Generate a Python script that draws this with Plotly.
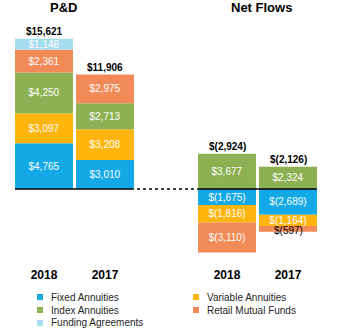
import plotly.graph_objects as go

# ---- data ----
groups = ["P&D", "P&D", "Net Flows", "Net Flows"]
years = ["2018", "2017", "2018", "2017"]
xpos = [0, 1, 3, 4]

series = ["Fixed Annuities", "Variable Annuities", "Index Annuities",
          "Retail Mutual Funds", "Funding Agreements"]
fixed = [4765, 3010, -1675, -2689]
variable = [3097, 3208, -1816, -1164]
index_ann = [4250, 2713, 3677, 2324]
retail = [2361, 2975, -3110, -597]
funding = [1148, 0, 0, 0]
values = [fixed, variable, index_ann, retail, funding]

colors = ["#12A9E6", "#FDB50E", "#8DB152", "#F28A58", "#A3DDEE"]

FONT = "Liberation Sans"
W, H = 339, 329
MB = 67
PH = H - MB  # plot height
ZERO_PX = 189
K = 104.0  # value units per pixel
BW = 0.95


def fmt(v):
    if v == 0:
        return ""
    s = "${:,}".format(abs(v))
    return s if v > 0 else "$(" + "{:,}".format(abs(v)) + ")"


fig = go.Figure()
small = []
for name, vals, col in zip(series, values, colors):
    texts = []
    for i, v in enumerate(vals):
        if v != 0 and abs(v) < 1000:
            small.append((i, name, v))
            texts.append("")
        else:
            texts.append(fmt(v))
    fig.add_trace(go.Bar(
        x=xpos, y=vals, name=name, width=BW,
        marker=dict(color=col, line=dict(width=0)),
        text=texts,
        textposition="inside", insidetextanchor="middle", textangle=0,
        constraintext="none",
        textfont=dict(family=FONT, size=10, color="white"),
        showlegend=False,
    ))

# small segment labels (too thin for inside text): black, centred on the segment
for i, name, v in small:
    below = sum(values[series.index(n)][i] for n in series[:series.index(name)]
                if (values[series.index(n)][i] < 0) == (v < 0))
    fig.add_annotation(x=xpos[i], y=below + v / 2, xref="x", yref="y", text=fmt(v),
                       showarrow=False, yanchor="middle", yshift=-2,
                       font=dict(family=FONT, size=10, color="black"))

# totals
for i, x in enumerate(xpos):
    tot = sum(v[i] for v in values)
    top = sum(v[i] for v in values if v[i] > 0)
    fig.add_annotation(x=x, y=top, xref="x", yref="y", text=fmt(tot),
                       showarrow=False, yanchor="bottom", yshift=0,
                       font=dict(family=FONT, size=10, color="black", weight="bold"))

# group titles
fig.add_annotation(x=63.5 / W, y=1 - 7.5 / PH, xref="paper", yref="paper", text="P&D",
                   showarrow=False, xanchor="center", yanchor="middle",
                   font=dict(family=FONT, size=13, color="black", weight="bold"))
fig.add_annotation(x=261 / W, y=1 - 7.5 / PH, xref="paper", yref="paper", text="Net Flows",
                   showarrow=False, xanchor="center", yanchor="middle",
                   font=dict(family=FONT, size=13, color="black", weight="bold"))

# zero baselines
left0 = xpos[0] - BW / 2
right1 = xpos[1] + BW / 2
left2 = xpos[2] - BW / 2
right3 = xpos[3] + BW / 2
fig.add_shape(type="line", x0=left0, x1=right1, y0=0, y1=0, xref="x", yref="y",
              line=dict(color="black", width=1.5), layer="above")
fig.add_shape(type="line", x0=right1 + 0.05, x1=left2, y0=0, y1=0, xref="x", yref="y",
              line=dict(color="black", width=1.5, dash="dot"), layer="above")
fig.add_shape(type="line", x0=left2, x1=right3, y0=0, y1=0, xref="x", yref="y",
              line=dict(color="black", width=1.5), layer="above")

# custom legend (two columns)
col_px = [40, 196]
row_px = [297, 310, 323]
for j, (name, col) in enumerate(zip(series, colors)):
    cx = col_px[j % 2]
    cy = row_px[j // 2]
    fig.add_shape(type="rect", xref="paper", yref="paper",
                  x0=(cx - 3) / W, x1=(cx + 3) / W,
                  y0=(PH - cy - 3) / PH, y1=(PH - cy + 3) / PH,
                  fillcolor=col, line=dict(width=0))
    fig.add_annotation(x=(cx + 9) / W, y=(PH - cy) / PH, xref="paper", yref="paper",
                       text=name, showarrow=False, xanchor="left", yanchor="middle",
                       font=dict(family=FONT, size=10, color="#262626"))

x_lo = -44 / 61
x_hi = x_lo + W / 61
fig.update_layout(
    width=W, height=H, barmode="relative",
    margin=dict(l=0, r=0, t=0, b=MB, pad=0),
    paper_bgcolor="white", plot_bgcolor="white",
    showlegend=False,
    xaxis=dict(range=[x_lo, x_hi], tickvals=xpos, ticktext=years,
               showgrid=False, zeroline=False, showline=False,
               ticks="outside", ticklen=2, tickcolor="rgba(0,0,0,0)",
               tickfont=dict(family=FONT, size=12, color="black", weight="bold")),
    yaxis=dict(range=[-(PH - ZERO_PX) * K, ZERO_PX * K], visible=False,
               showgrid=False, zeroline=False),
)

fig.write_html("out.html")
